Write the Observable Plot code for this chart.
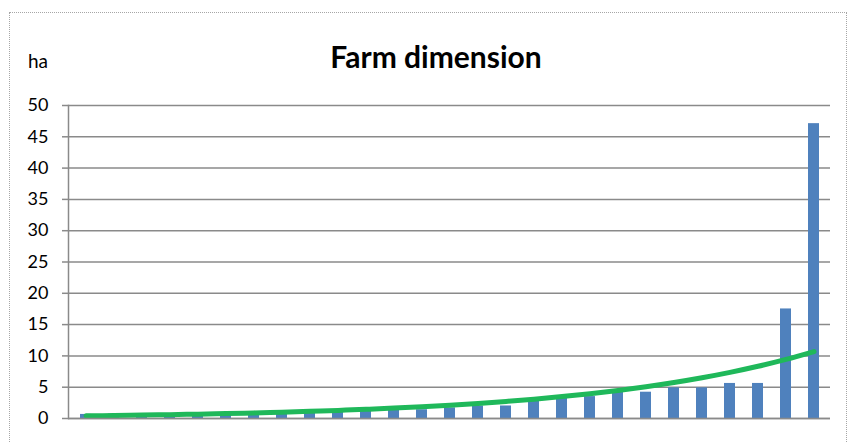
<!DOCTYPE html>
<html>
<head>
<meta charset="utf-8">
<script src="https://cdn.jsdelivr.net/npm/d3@7"></script>
<script src="https://cdn.jsdelivr.net/npm/@observablehq/plot@0.6"></script>
<style>
  html, body { margin: 0; padding: 0; background: #fff; overflow: hidden; }
  #wrap { position: relative; width: 850px; height: 443px; font-family: Lato, "Open Sans", sans-serif; }
  #border { position: absolute; left: 9px; top: 12px; width: 838px; height: 500px; border: 1px dotted #a6a6a6; box-sizing: border-box; pointer-events: none; }
  #header { position: relative; height: 80px; }
  #unit { position: absolute; left: 28px; top: 49px; font-size: 19px; color: #000; }
  #title { position: absolute; left: 436px; top: 38px; transform: translateX(-50%); font-size: 30px; font-weight: bold; color: #000; white-space: nowrap; }
  svg { display: block; }
</style>
</head>
<body>
<div id="wrap">
  <div id="border"></div>
  <div id="header">
    <div id="unit">ha</div>
    <div id="title">Farm dimension</div>
  </div>
  <div id="chart"></div>
</div>
<script>
// Farm index (sorted by size) and area in hectares
const farms = d3.range(1, 28);
const hectares = [0.65, 0.7, 0.7, 0.7, 0.8, 0.8, 0.9, 0.9, 1.0, 1.15, 1.15, 1.4, 1.4, 1.7, 2.0, 2.0, 2.8, 3.4, 3.5, 4.2, 4.2, 4.9, 4.9, 5.6, 5.6, 17.5, 47.1];
const yTicks = [0, 5, 10, 15, 20, 25, 30, 35, 40, 45, 50];

const data = farms.map((f, i) => ({farm: f, ha: hectares[i]}));

// Exponential trendline (least squares on ln y, as a spreadsheet does)
const lx = farms, ly = hectares.map(Math.log);
const mx = d3.mean(lx), my = d3.mean(ly);
const b = d3.sum(lx, (x, i) => (x - mx) * (ly[i] - my)) / d3.sum(lx, x => (x - mx) ** 2);
const a = Math.exp(my - b * mx);
const trend = farms.map(f => ({farm: f, ha: a * Math.exp(b * f)}));

const chart = Plot.plot({
  width: 850,
  height: 363,
  marginLeft: 68,
  marginRight: 20,
  marginTop: 25,
  marginBottom: 25,
  style: {fontFamily: "Lato, 'Open Sans', sans-serif", fontSize: "18px", color: "#000", background: "transparent"},
  x: {domain: farms, paddingInner: 0.61, paddingOuter: 0.305, axis: null},
  y: {domain: [0, 50], ticks: yTicks, tickSize: 0, label: null},
  marks: [
    Plot.gridY(yTicks, {stroke: "#8a8a8a", strokeOpacity: 1, strokeWidth: 1.5}),
    Plot.barY(data, {x: "farm", y: "ha", fill: "#4f81bd"}),
    Plot.line(trend, {x: "farm", y: "ha", stroke: "#1fb85a", strokeWidth: 5, curve: "catmull-rom", strokeLinecap: "round"}),
    Plot.ruleY([0], {stroke: "#8a8a8a", strokeWidth: 1.5}),
    Plot.axisY(yTicks, {tickSize: 6, tickPadding: 14, stroke: "#8a8a8a", strokeWidth: 1.5, fontSize: 18, fill: "#000", label: null}),
    Plot.frame({anchor: "left", stroke: "#8a8a8a", strokeWidth: 1.5})
  ]
});
document.getElementById("chart").append(chart);
</script>
</body>
</html>
